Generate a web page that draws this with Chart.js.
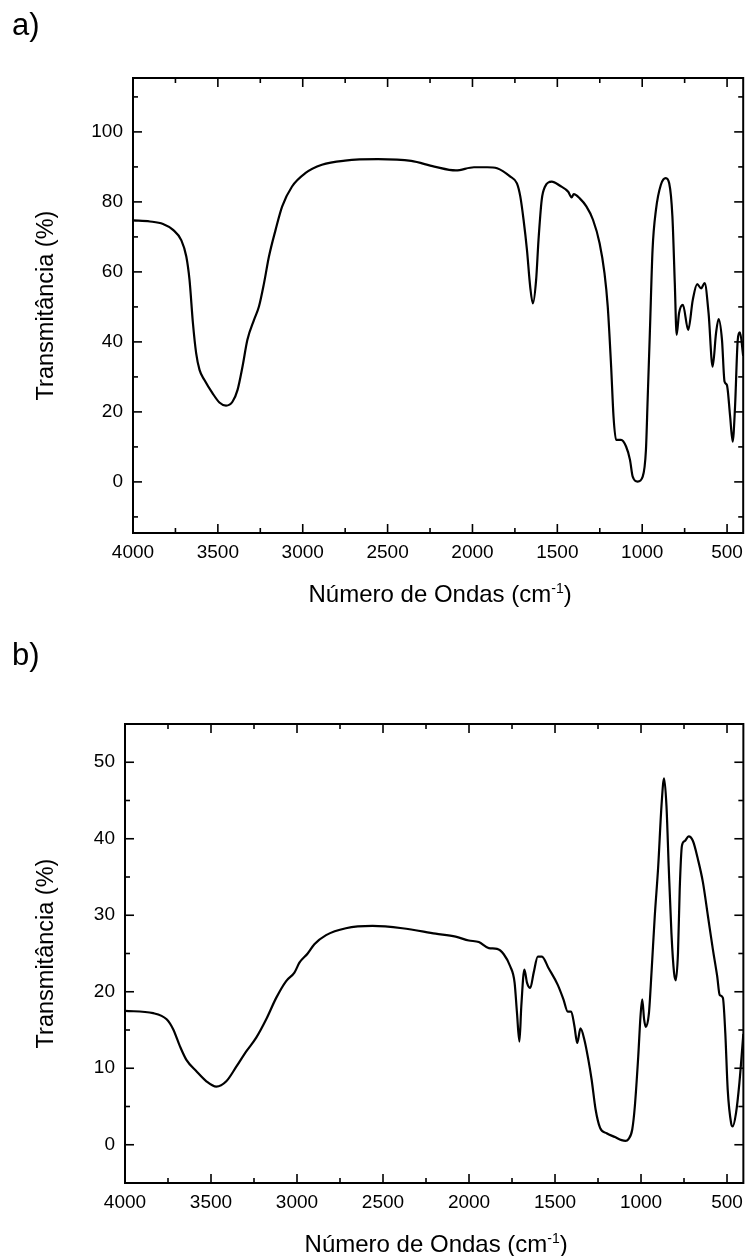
<!DOCTYPE html>
<html>
<head>
<meta charset="utf-8">
<script src="https://cdn.jsdelivr.net/npm/chart.js@4.4.1/dist/chart.umd.min.js"></script>
<style>
  html, body { margin: 0; padding: 0; background: #fff; }
  #page { position: relative; width: 751px; height: 1256px; overflow: hidden;
          font-family: "Liberation Sans", Arial, sans-serif; }
  .panel { position: absolute; left: 0; width: 751px; height: 628px; }
  .tag { position: absolute; font-size: 31px; line-height: 1; color: #000; }
</style>
</head>
<body>
<div id="page">
  <div class="panel" style="top:0"><canvas id="chartA" width="751" height="628"></canvas></div>
  <div class="panel" style="top:628px"><canvas id="chartB" width="751" height="628"></canvas></div>
  <div class="tag" style="left:12px; top:9px;">a)</div>
  <div class="tag" style="left:12px; top:639px;">b)</div>
</div>
<script>
// ---- Spectrum (a) ----
const wavenumberA = [
  4000, 3900, 3823, 3764, 3715, 3686, 3667, 3647, 3628, 3608, 3579, 3531, 3491, 3452,
  3414, 3384, 3355, 3326, 3287, 3258, 3228, 3199, 3160, 3121, 3063, 2985, 2887, 2751,
  2556, 2361, 2225, 2098, 1991, 1913, 1855, 1777, 1738, 1718, 1699, 1679, 1660, 1644,
  1625, 1611, 1592, 1572, 1533, 1484, 1436, 1416, 1403, 1368, 1329, 1290, 1251, 1222,
  1203, 1183, 1169, 1154, 1125, 1095, 1072, 1056, 1027, 997, 978, 968, 955, 939,
  919, 890, 861, 841, 822, 808, 797, 783, 760, 729, 702, 676, 653, 632,
  609, 585, 565, 550, 530, 515, 501, 482, 467, 453, 437, 424, 405
];
const transmittanceA = [
  74.7, 74.4, 73.7, 72.0, 69.0, 64.4, 57.7, 45.4, 36.8, 32.0, 29.1, 25.3, 22.7, 21.8,
  22.9, 26.3, 32.9, 40.6, 46.3, 50.1, 56.8, 64.4, 72.0, 78.7, 84.4, 88.2, 90.6, 91.8,
  92.2, 91.7, 90.1, 89.0, 89.9, 89.9, 89.6, 87.2, 85.3, 81.5, 74.9, 66.3, 55.8, 51.0,
  57.7, 69.1, 80.6, 84.4, 85.8, 84.6, 82.9, 81.3, 82.2, 81.0, 78.7, 74.9, 68.2, 59.6,
  50.1, 32.9, 18.7, 12.0, 12.0, 10.1, 6.3, 1.5, 0.1, 1.5, 9.1, 23.4, 42.5, 66.3,
  77.7, 84.9, 86.8, 85.3, 75.8, 56.8, 42.0, 48.2, 50.6, 43.4, 52.0, 56.5, 55.3, 56.8,
  48.2, 32.9, 42.5, 46.5, 40.6, 28.7, 27.7, 18.7, 11.5, 21.5, 40.6, 42.7, 36.0
];

// ---- Spectrum (b) ----
const wavenumberB = [
  4000, 3836, 3758, 3720, 3681, 3643, 3585, 3527, 3469, 3411, 3353, 3295, 3237, 3179,
  3121, 3063, 3015, 2986, 2938, 2899, 2831, 2716, 2561, 2388, 2194, 2078, 2001, 1943,
  1885, 1837, 1798, 1760, 1735, 1721, 1707, 1696, 1678, 1663, 1644, 1624, 1600, 1576,
  1538, 1484, 1451, 1426, 1406, 1387, 1371, 1352, 1329, 1306, 1287, 1264, 1238, 1200,
  1151, 1113, 1090, 1074, 1051, 1036, 1016, 1003, 993, 982, 972, 954, 939, 920,
  900, 881, 866, 852, 839, 823, 808, 798, 785, 775, 762, 746, 723, 698,
  669, 640, 611, 582, 557, 543, 524, 510, 496, 476, 467, 448, 428, 405
];
const transmittanceB = [
  17.5, 17.2, 16.4, 15.1, 12.9, 11.1, 9.6, 8.3, 7.6, 8.3, 10.2, 12.2, 14.0, 16.4,
  19.2, 21.4, 22.5, 23.8, 25.0, 26.2, 27.4, 28.3, 28.6, 28.3, 27.6, 27.2, 26.7, 26.5,
  25.7, 25.6, 24.9, 23.3, 21.2, 17.2, 13.5, 18.1, 22.9, 21.2, 20.5, 22.5, 24.6, 24.6,
  23.1, 20.9, 19.0, 17.4, 17.4, 15.5, 13.3, 15.2, 13.7, 11.1, 8.5, 4.6, 2.2, 1.5,
  1.0, 0.6, 0.5, 0.7, 2.0, 5.0, 11.6, 16.8, 19.0, 16.4, 15.4, 17.2, 22.5, 29.9,
  36.4, 44.3, 47.9, 44.3, 36.4, 27.6, 22.5, 21.5, 25.1, 33.4, 39.1, 39.7, 40.3, 39.7,
  37.3, 34.3, 29.9, 25.5, 22.0, 19.6, 19.2, 14.6, 7.2, 2.8, 2.4, 4.1, 8.1, 14.5
];

// ---- Axis labels ----
const xMajorTicks = [4000, 3500, 3000, 2500, 2000, 1500, 1000, 500];
const yMajorTicksA = [0, 20, 40, 60, 80, 100];
const yMajorTicksB = [0, 10, 20, 30, 40, 50];
const xTitleMain = 'Número de Ondas (cm';
const xTitleSup = '-1';
const xTitleEnd = ')';
const yTitle = 'Transmitância (%)';

const FONT = "'Liberation Sans', Arial, sans-serif";
const CANVAS_H = 628;

// Frame with inward major/minor tick marks on all four sides
const framePlugin = {
  id: 'frameTicks',
  afterDatasetsDraw(chart, args, opts) {
    const { ctx, chartArea: a, scales: { x, y } } = chart;
    ctx.save();
    ctx.strokeStyle = '#000';
    ctx.lineWidth = 1.6;
    const seg = (x1, y1, x2, y2) => { ctx.beginPath(); ctx.moveTo(x1, y1); ctx.lineTo(x2, y2); ctx.stroke(); };
    x.ticks.forEach(t => {
      const px = x.getPixelForValue(t.value);
      if (px <= a.left + 1 || px >= a.right - 1) return;
      const len = opts.xMajor.includes(t.value) ? 9 : 5;
      seg(px, a.bottom, px, a.bottom - len);
      seg(px, a.top, px, a.top + len);
    });
    y.ticks.forEach(t => {
      const py = y.getPixelForValue(t.value);
      if (py <= a.top + 1 || py >= a.bottom - 1) return;
      const len = opts.yMajor.includes(t.value) ? 9 : 5;
      seg(a.left, py, a.left + len, py);
      seg(a.right, py, a.right - len, py);
    });
    ctx.lineWidth = 2;
    ctx.strokeRect(a.left, a.top, a.right - a.left, a.bottom - a.top);
    ctx.restore();
  }
};

// Bottom axis title with a superscript exponent
const xTitlePlugin = {
  id: 'xTitleSup',
  afterDraw(chart) {
    const { ctx, chartArea: a } = chart;
    const mainFont = '24px ' + FONT;
    const supFont = '14px ' + FONT;
    ctx.save();
    ctx.fillStyle = '#000';
    ctx.textBaseline = 'alphabetic';
    ctx.textAlign = 'left';
    ctx.font = mainFont;
    const w1 = ctx.measureText(xTitleMain).width;
    const w3 = ctx.measureText(xTitleEnd).width;
    ctx.font = supFont;
    const w2 = ctx.measureText(xTitleSup).width;
    const total = w1 + w2 + w3;
    let cx = (a.left + a.right) / 2 + 2 - total / 2;
    const base = a.bottom + 69;
    ctx.font = mainFont;
    ctx.fillText(xTitleMain, cx, base);
    cx += w1;
    ctx.font = supFont;
    ctx.fillText(xTitleSup, cx, base - 9);
    cx += w2;
    ctx.font = mainFont;
    ctx.fillText(xTitleEnd, cx, base);
    ctx.restore();
  }
};

// Place y ticks on whole multiples of the step inside the axis range
function stepTicks(min, max, step) {
  const out = [];
  for (let v = Math.ceil(min / step) * step; v <= max; v += step) out.push({ value: v });
  return out;
}

function makeChart(id, wn, tr, cfg) {
  const points = wn.map((w, i) => ({ x: w, y: tr[i] }));
  return new Chart(document.getElementById(id), {
    type: 'line',
    data: {
      datasets: [{
        data: points,
        borderColor: '#000',
        borderWidth: 2.2,
        pointRadius: 0,
        fill: false,
        cubicInterpolationMode: 'monotone'
      }]
    },
    options: {
      responsive: false,
      animation: false,
      devicePixelRatio: 1,
      layout: { padding: { left: 0, top: cfg.area.top, right: 751 - cfg.area.right, bottom: 0 } },
      plugins: {
        legend: { display: false },
        tooltip: { enabled: false },
        frameTicks: { xMajor: xMajorTicks, yMajor: cfg.yMajor }
      },
      scales: {
        x: {
          type: 'linear',
          reverse: true,
          min: 405,
          max: 4000,
          grid: { display: false, drawTicks: false },
          border: { display: false },
          ticks: {
            stepSize: 250,
            autoSkip: false,
            maxRotation: 0,
            includeBounds: false,
            padding: 8,
            color: '#000',
            font: { family: FONT, size: 19 },
            callback: v => (xMajorTicks.includes(v) ? String(v) : '')
          },
          afterFit: s => { s.height = CANVAS_H - cfg.area.bottom; }
        },
        y: {
          type: 'linear',
          min: cfg.yMin,
          max: cfg.yMax,
          grid: { display: false, drawTicks: false },
          border: { display: false },
          title: {
            display: true,
            text: yTitle,
            color: '#000',
            font: { family: FONT, size: 23.5 },
            padding: { top: 32, bottom: 0 }
          },
          ticks: {
            autoSkip: false,
            padding: 10,
            color: '#000',
            font: { family: FONT, size: 19 },
            callback: v => (cfg.yMajor.includes(v) ? String(v) : '')
          },
          afterBuildTicks: s => { s.ticks = stepTicks(cfg.yMin, cfg.yMax, cfg.yStep); },
          afterFit: s => { s.width = cfg.area.left; }
        }
      }
    },
    plugins: [framePlugin, xTitlePlugin]
  });
}

makeChart('chartA', wavenumberA, transmittanceA, {
  area: { left: 133, top: 78, right: 748, bottom: 533 },
  yMin: -14.6, yMax: 115.4, yStep: 10, yMajor: yMajorTicksA
});

makeChart('chartB', wavenumberB, transmittanceB, {
  area: { left: 125, top: 96, right: 746, bottom: 555 },
  yMin: -5, yMax: 55, yStep: 5, yMajor: yMajorTicksB
});
</script>
</body>
</html>
